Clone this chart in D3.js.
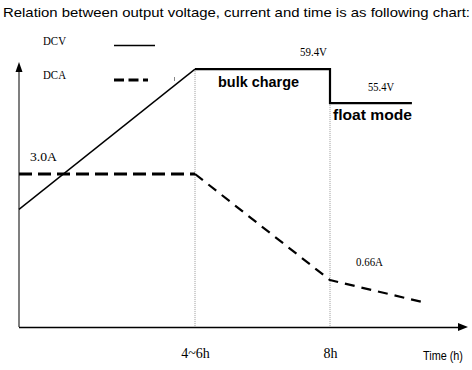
<!DOCTYPE html>
<html><head><meta charset="utf-8">
<script src="https://cdn.jsdelivr.net/npm/d3@7"></script>
<style>body{margin:0;background:#fff}svg{display:block}</style>
</head><body>
<script>
// ---- data ----
const title = "Relation between output voltage, current and time is as following chart:";
const voltageTime = [0, 5, 8, 8, 9.82];
const voltageValues = [42.9, 59.4, 59.4, 55.4, 55.4];
const currentTime = [0, 5, 8, 10.16];
const currentValues = [3.0, 3.0, 0.66, 0.15];
const tickTimes = [5, 8];
const tickLabels = ["4~6h", "8h"];
const markerTimes = [5, 8];
const legendLabels = ["DCV", "DCA"];
const voltageLabels = ["59.4V", "55.4V"];
const currentLabels = ["3.0A", "0.66A"];
const stageLabels = ["bulk charge", "float mode"];
const axisLabel = "Time (h)";

const W = 472, H = 370;
const svg = d3.select("body").append("svg").attr("width", W).attr("height", H);

const x = d3.scaleLinear().domain([0, 5, 8, 11]).range([19, 195, 330, 465]);
const yV = d3.scaleLinear().domain([40, 60]).range([234, 64]);
const yA = d3.scaleLinear().domain([0, 3]).range([310, 174]);
const y0 = 327;

const serif = "'Liberation Serif','Times New Roman',serif";
const sans = "'Liberation Sans',Arial,sans-serif";

// title
svg.append("text").attr("x", 3).attr("y", 17).attr("font-family", sans)
  .attr("font-size", 13.2).attr("textLength", 467).attr("lengthAdjust", "spacingAndGlyphs")
  .text(title);

// dotted markers
svg.selectAll(".marker").data(markerTimes).join("line")
  .attr("x1", d => x(d)).attr("x2", d => x(d))
  .attr("y1", (d, i) => yV(voltageValues[i === 0 ? 1 : 3])).attr("y2", y0)
  .attr("stroke", "#999").attr("stroke-width", 1).attr("stroke-dasharray", "1,1");

// axes
svg.append("line").attr("x1", 19).attr("x2", 19).attr("y1", y0).attr("y2", 70)
  .attr("stroke", "#555").attr("stroke-width", 1.5);
svg.append("path").attr("d", "M19,62 L15.5,72 L22.5,72 Z").attr("fill", "#000");
const xAxis = d3.axisBottom(x).tickValues(tickTimes).tickFormat((d, i) => tickLabels[i]).tickSize(0).tickPadding(0);
const gx = svg.append("g").attr("transform", `translate(0,${y0})`).call(xAxis);
gx.select(".domain").attr("d", `M19,0.5H459`).attr("stroke", "#000").attr("stroke-width", 1.5);
gx.selectAll(".tick text").attr("dy", 0).attr("y", 31)
  .attr("font-family", serif).attr("font-size", 14).attr("fill", "#000");
svg.append("path").attr("d", `M468,${y0} L458,${y0-4} L458,${y0+4} Z`).attr("fill", "#000");
svg.append("text").attr("x", 423).attr("y", 360).attr("font-family", "'Liberation Sans Narrow','Arial Narrow',sans-serif")
  .attr("font-size", 12.5).attr("textLength", 40).attr("lengthAdjust", "spacingAndGlyphs").text(axisLabel);

// voltage line
const vLine = d3.line().x((d, i) => x(voltageTime[i])).y(d => yV(d));
svg.append("path").attr("d", vLine(voltageValues.slice(0, 2)))
  .attr("fill", "none").attr("stroke", "#000").attr("stroke-width", 1.4);
svg.append("path").attr("d", d3.line().x((d, i) => x(voltageTime[i + 1])).y(d => yV(d))(voltageValues.slice(1)))
  .attr("fill", "none").attr("stroke", "#000").attr("stroke-width", 2.2).attr("stroke-linejoin", "miter");

// current line
const aLine = d3.line().x((d, i) => x(currentTime[i])).y(d => yA(d));
svg.append("path").attr("d", aLine(currentValues.slice(0, 2)))
  .attr("fill", "none").attr("stroke", "#000").attr("stroke-width", 3).attr("stroke-dasharray", "13,6");
svg.append("path").attr("d", d3.line().x((d, i) => x(currentTime[i + 1])).y(d => yA(d))(currentValues.slice(1)))
  .attr("fill", "none").attr("stroke", "#000").attr("stroke-width", 2.2).attr("stroke-dasharray", "10,7");

// legend
svg.append("text").attr("x", 43).attr("y", 45).attr("font-family", serif).attr("font-size", 12)
  .attr("textLength", 23).attr("lengthAdjust", "spacingAndGlyphs").text(legendLabels[0]);
svg.append("text").attr("x", 43).attr("y", 79).attr("font-family", serif).attr("font-size", 12)
  .attr("textLength", 23).attr("lengthAdjust", "spacingAndGlyphs").text(legendLabels[1]);
svg.append("line").attr("x1", 114).attr("x2", 155).attr("y1", 45.5).attr("y2", 45.5)
  .attr("stroke", "#000").attr("stroke-width", 1.3);
svg.append("line").attr("x1", 114).attr("x2", 148).attr("y1", 80).attr("y2", 80)
  .attr("stroke", "#000").attr("stroke-width", 3).attr("stroke-dasharray", "10,4.5");
svg.append("line").attr("x1", 174.5).attr("x2", 174.5).attr("y1", 77).attr("y2", 81)
  .attr("stroke", "#888").attr("stroke-width", 1);

// value labels
const lbl = (t, xx, yy, w) => svg.append("text").attr("x", xx).attr("y", yy)
  .attr("font-family", serif).attr("font-size", 12).attr("textLength", w)
  .attr("lengthAdjust", "spacingAndGlyphs").text(t);
lbl(voltageLabels[0], 300, 56, 27);
lbl(voltageLabels[1], 368, 91, 26);
lbl(currentLabels[0], 30, 161, 27);
lbl(currentLabels[1], 356, 266, 27);

// stage labels
svg.append("text").attr("x", 218).attr("y", 87).attr("font-family", sans).attr("font-weight", "bold")
  .attr("font-size", 14).attr("textLength", 81).attr("lengthAdjust", "spacingAndGlyphs").text(stageLabels[0]);
svg.append("text").attr("x", 333).attr("y", 120).attr("font-family", sans).attr("font-weight", "bold")
  .attr("font-size", 14).attr("textLength", 79).attr("lengthAdjust", "spacingAndGlyphs").text(stageLabels[1]);
</script>
</body></html>
